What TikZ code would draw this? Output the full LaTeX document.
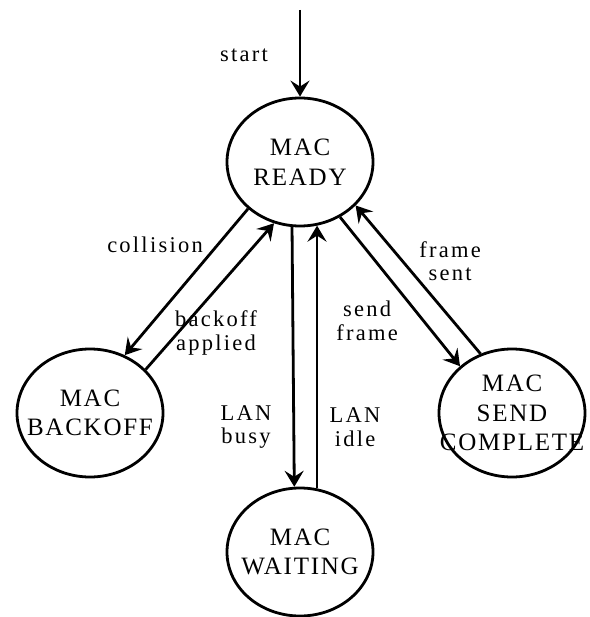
\documentclass[tikz,border=0pt]{standalone}
\usepackage{fontspec}
\setmainfont{Liberation Serif}
\newfontfamily\statefont[LetterSpace=7]{Liberation Serif}
\newfontfamily\labfont[LetterSpace=10]{Liberation Serif}
\usetikzlibrary{arrows.meta,shapes.geometric}
\begin{document}
\begin{tikzpicture}[x=1pt,y=-1pt,
  state/.style={draw, ellipse, line width=2.8pt, minimum width=146pt, minimum height=128pt, inner sep=0pt},
  stext/.style={align=center, font=\statefont\fontsize{25}{29.5}\selectfont, inner sep=0pt},
  lab/.style={align=center, font=\labfont\fontsize{22.5}{23.5}\selectfont, inner sep=0pt},
  tr/.style={line width=2.8pt, -{Stealth[length=16pt,width=19pt,inset=6pt]}}]
\useasboundingbox (0,0) rectangle (589,617);

\node[state, label={[stext]center:{MAC\\READY}}] (ready) at (300,162) {};
\node[state, label={[stext]center:{MAC\\BACKOFF}}] (backoff) at (90,413) {};
\node[state, label={[stext]center:{MAC\\SEND\\COMPLETE}}] (send) at (512,413) {};
\node[state, label={[stext]center:{MAC\\WAITING}}] (waiting) at (300,552) {};

\coordinate (init) at (300,10);

\draw[tr] (init) -- (ready.north);
\draw[tr] (ready.222) -- (backoff.59.5);
\draw[tr] (backoff.38.8) -- (ready.247);
\draw[tr] (ready.263.5) -- (waiting.95.5);
\draw[tr] (waiting.75.5) -- (ready.285);
\draw[tr] (ready.306.4) -- (send.138);
\draw[tr] (send.118.9) -- (ready.322.7);

\node[lab] (lstart) at (244,55) {start};
\node[lab] (lcoll) at (155,245) {collision};
\node[lab] (lback) at (216,333) {backoff\\applied};
\node[lab] (lbusy) at (246,427) {LAN\\busy};
\node[lab] (lidle) at (355,427) {LAN\\idle};
\node[lab] (lsend) at (367,321) {send\\frame};
\node[lab] (lsent) at (450,261) {frame\\sent};
\end{tikzpicture}
\end{document}
